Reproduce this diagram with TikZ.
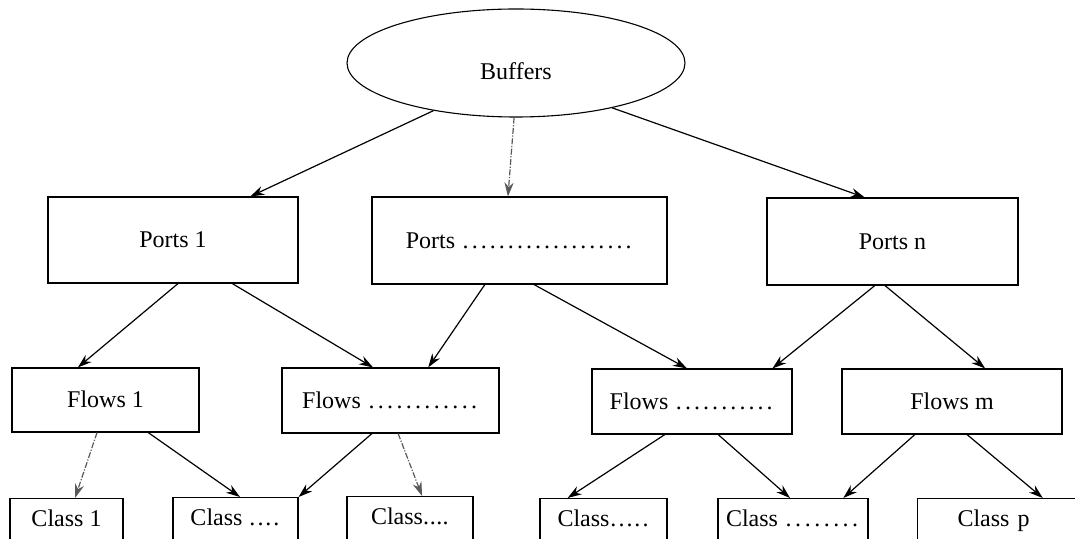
\documentclass[tikz,border=0pt]{standalone}
\usepackage{fontspec}
\setmainfont{Liberation Serif}
\usetikzlibrary{shapes.geometric,arrows.meta,calc}

% a run of evenly spaced dots: #1 total width, #2 pitch
\newcommand\spdots[2]{\hbox to #1{\xleaders\hbox to #2{\hss.\hss}\hfill}}

\begin{document}
\begin{tikzpicture}[x=0.5pt,y=-0.5pt,
  every node/.style={font=\fontsize{12}{14}\selectfont},
  box/.style={draw, line width=0.55pt, inner sep=0pt, text height=8pt, text depth=0pt},
  classbox/.style={draw, line width=0.55pt, anchor=north, inner xsep=0pt,
    inner ysep=3pt, text height=11pt, text depth=30pt},
  link/.style={line width=0.6pt, -{Stealth[length=7pt,width=4.6pt]}},
  faint/.style={link, draw=black!65, dash pattern=on 3pt off 0.8pt on 0.6pt off 0.8pt}
]
\useasboundingbox (0,0) rectangle (1075,539);

% root
\node[ellipse, draw, line width=0.55pt, minimum width=169pt, minimum height=54pt,
      inner sep=0pt, text height=17pt, text depth=0pt] (buf) at (516,63) {Buffers};

% ports
\node[box, minimum width=125pt,   minimum height=43pt]   (p1) at (173,240)     {Ports 1};
\node[box, minimum width=147.5pt, minimum height=43.5pt] (p2) at (519.5,240.5) {Ports \spdots{86pt}{4.5pt}};
\node[box, minimum width=125.5pt, minimum height=43.5pt] (p3) at (892.5,241.5) {Ports n};

% flows
\node[box, minimum width=93.5pt, minimum height=32pt]   (f1) at (105.5,400)   {Flows 1};
\node[box, minimum width=108.5pt,minimum height=32.5pt] (f2) at (390.5,400.5) {Flows \spdots{56pt}{4.65pt}};
\node[box, minimum width=100pt,  minimum height=32.5pt] (f3) at (692,401.5)   {Flows \spdots{50pt}{4.5pt}};
\node[box, minimum width=110pt,  minimum height=32.5pt] (f4) at (952,401.5)   {Flows m};

% classes (running off the lower edge)
\begin{scope}
\clip (0,0) rectangle (1075,539);
\node[classbox, minimum width=56.5pt] (c1) at (66.5,498)  {Class 1};
\node[classbox, minimum width=62.5pt] (c2) at (235.5,497) {Class \spdots{16pt}{4pt}};
\node[classbox, minimum width=63pt]   (c3) at (410,496)   {Class\spdots{13pt}{3.25pt}};
\node[classbox, minimum width=63.5pt] (c4) at (603.5,498) {Class\spdots{20pt}{4pt}};
\node[classbox, minimum width=75pt]   (c5) at (793,498)   {Class \spdots{38pt}{4.75pt}};
\node[classbox, anchor=north west, inner xsep=20pt, text width=51.5pt, align=left]
      (c6) at (917,498) {Class p};
\end{scope}

% root to ports
\draw[link]  (buf.210) -- ($(p1.north west)!.808!(p1.north east)$);
\draw[faint] (buf.268) -- ($(p2.north west)!.461!(p2.north east)$);
\draw[link]  (buf.335) -- ($(p3.north west)!.39!(p3.north east)$);

% ports to flows
\draw[link] ($(p1.south west)!.52!(p1.south east)$)  -- ($(f1.north west)!.353!(f1.north east)$);
\draw[link] ($(p1.south west)!.736!(p1.south east)$) -- ($(f2.north west)!.42!(f2.north east)$);
\draw[link] ($(p2.south west)!.383!(p2.south east)$) -- ($(f2.north west)!.673!(f2.north east)$);
\draw[link] ($(p2.south west)!.549!(p2.south east)$) -- ($(f3.north west)!.475!(f3.north east)$);
\draw[link] ($(p3.south west)!.43!(p3.south east)$)  -- ($(f3.north west)!.9!(f3.north east)$);
\draw[link] ($(p3.south west)!.47!(p3.south east)$)  -- ($(f4.north west)!.65!(f4.north east)$);

% flows to classes
\draw[faint] ($(f1.south west)!.455!(f1.south east)$) -- ($(c1.north west)!.575!(c1.north east)$);
\draw[link]  ($(f1.south west)!.727!(f1.south east)$) -- ($(c2.north west)!.536!(c2.north east)$);
\draw[link]  ($(f2.south west)!.415!(f2.south east)$) -- (c2.north east);
\draw[faint] ($(f2.south west)!.535!(f2.south east)$) -- ($(c3.north west)!.595!(c3.north east)$);
\draw[link]  ($(f3.south west)!.365!(f3.south east)$) -- ($(c4.north west)!.22!(c4.north east)$);
\draw[link]  ($(f3.south west)!.63!(f3.south east)$)  -- ($(c5.north west)!.48!(c5.north east)$);
\draw[link]  ($(f4.south west)!.332!(f4.south east)$) -- ($(c5.north west)!.833!(c5.north east)$);
\draw[link]  ($(f4.south west)!.568!(f4.south east)$) -- ($(c6.north west)!.683!(c6.north east)$);
\end{tikzpicture}
\end{document}
